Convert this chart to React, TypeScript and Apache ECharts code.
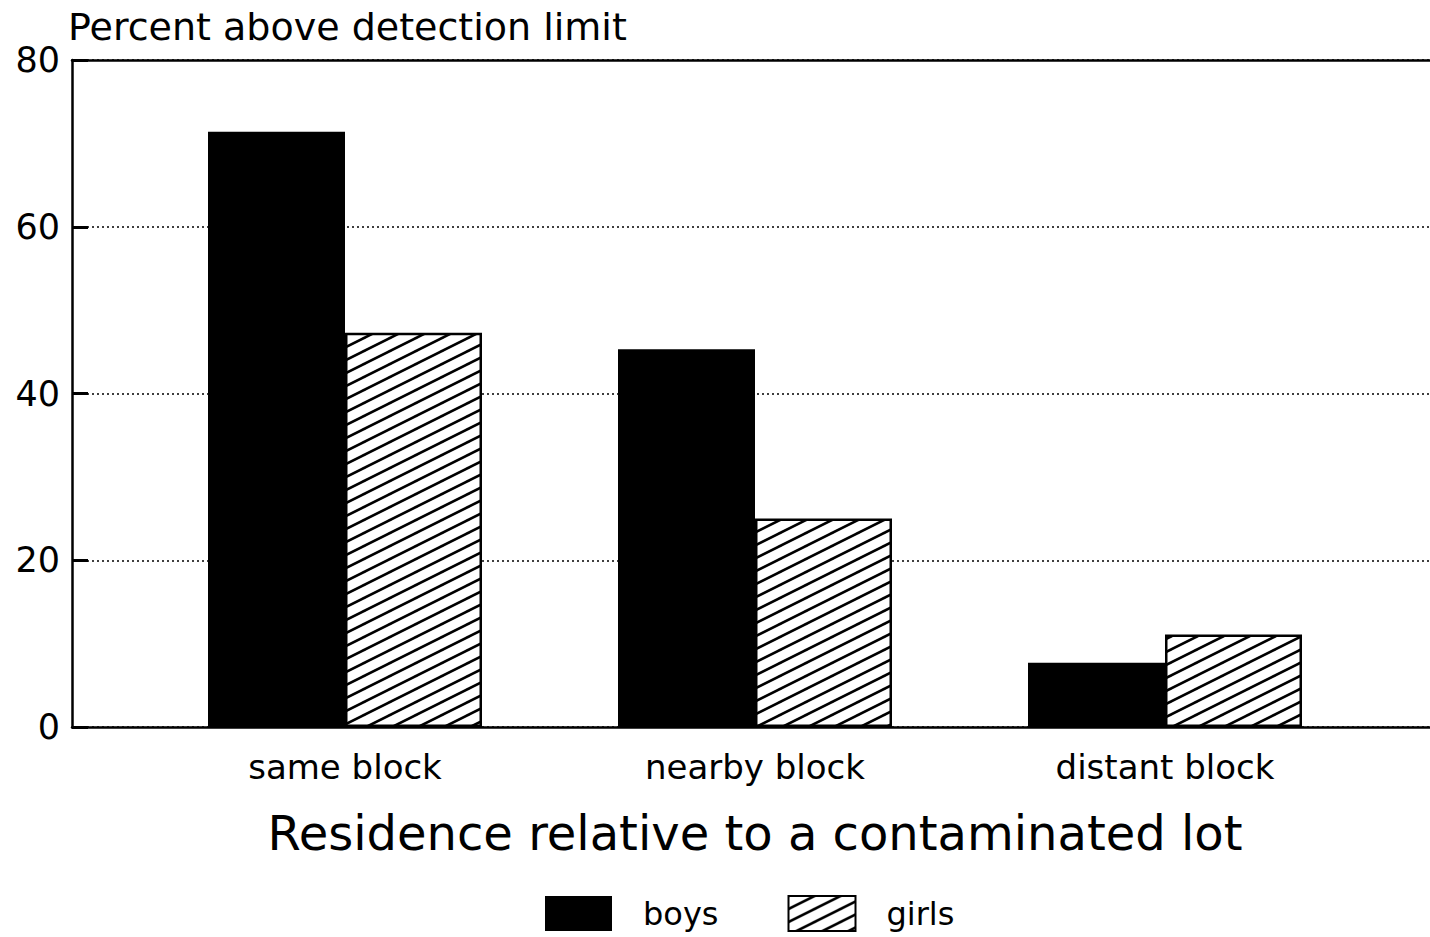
import React, { useEffect, useRef } from "react";
import * as echarts from "echarts";

const categories = ["same block", "nearby block", "distant block"];
const boys = [71.4, 45.3, 7.7];
const girls = [47.3, 25.0, 11.1];
const yTicks = [0, 20, 40, 60, 80];
const seriesNames = ["boys", "girls"];
const yTitle = "Percent above detection limit";
const xTitle = "Residence relative to a contaminated lot";

const FONT = "DejaVu Sans";

const hatchSvg =
  '<svg xmlns="http://www.w3.org/2000/svg" width="26" height="13">' +
  '<rect width="26" height="13" fill="white"/>' +
  '<path d="M0,13 L26,0 M-2,1 L2,-1 M24,14 L28,12" stroke="black" stroke-width="2.6" fill="none"/>' +
  "</svg>";
const hatchUrl = "data:image/svg+xml;charset=utf-8," + encodeURIComponent(hatchSvg);

export default function App() {
  const ref = useRef<HTMLDivElement>(null);
  useEffect(() => {
    if (!ref.current) return;
    const chart = echarts.init(ref.current, undefined, { renderer: "svg" });
    const hatch: any = {
      image: hatchUrl,
      repeat: "repeat",
      imageWidth: 26,
      imageHeight: 13,
    };
    const borderLine = { show: true, lineStyle: { color: "#000", width: 2.5 } };
    chart.setOption({
      animation: false,
      backgroundColor: "#fff",
      textStyle: { fontFamily: FONT, color: "#000" },
      title: {
        text: yTitle,
        left: 63,
        top: 3,
        textStyle: { fontFamily: FONT, fontSize: 38, fontWeight: "normal", color: "#000" },
      },
      legend: {
        data: seriesNames,
        icon: "rect",
        left: 545,
        top: 895,
        padding: 0,
        itemWidth: 67,
        itemHeight: 35,
        itemGap: 69,
        textStyle: { fontFamily: FONT, fontSize: 32, color: "#000", padding: [0, 0, 0, 26] },
      },
      grid: [
        { left: 72, right: 0, top: 60, bottom: 210 },
        { left: 140, right: 60, top: 60, bottom: 210 },
      ],
      xAxis: [
        {
          gridIndex: 0,
          type: "value",
          min: 0,
          max: 1,
          position: "bottom",
          axisLine: borderLine,
          axisTick: { show: false },
          axisLabel: { show: false },
          splitLine: { show: false },
        },
        {
          gridIndex: 1,
          type: "category",
          data: categories,
          axisLine: { show: false },
          axisTick: { show: false },
          axisLabel: { fontFamily: FONT, fontSize: 34, color: "#000", margin: 23 },
          name: xTitle,
          nameLocation: "middle",
          nameGap: 82,
          nameTextStyle: { fontFamily: FONT, fontSize: 48, color: "#000", verticalAlign: "top" },
        },
        {
          gridIndex: 0,
          type: "value",
          min: 0,
          max: 1,
          position: "top",
          axisLine: borderLine,
          axisTick: { show: false },
          axisLabel: { show: false },
          splitLine: { show: false },
        },
      ],
      yAxis: [
        {
          gridIndex: 0,
          type: "value",
          min: yTicks[0],
          max: yTicks[yTicks.length - 1],
          interval: 20,
          axisLine: borderLine,
          axisTick: { show: true, inside: true, length: 16, lineStyle: { color: "#000", width: 3 } },
          axisLabel: { fontFamily: FONT, fontSize: 35, color: "#000", margin: 12 },
          splitLine: { show: true, lineStyle: { color: "#000", width: 1.6, type: [2, 3] } },
        },
        {
          gridIndex: 1,
          type: "value",
          min: yTicks[0],
          max: yTicks[yTicks.length - 1],
          show: false,
          splitLine: { show: false },
        },
      ],
      series: [
        {
          name: seriesNames[0],
          type: "bar",
          xAxisIndex: 1,
          yAxisIndex: 1,
          barWidth: 137,
          barGap: "0%",
          data: boys,
          itemStyle: { color: "#000" },
        },
        {
          name: seriesNames[1],
          type: "bar",
          xAxisIndex: 1,
          yAxisIndex: 1,
          barWidth: 137,
          barGap: "0%",
          data: girls,
          itemStyle: { color: hatch, borderColor: "#000", borderWidth: 2.5 },
        },
      ],
    });
    return () => chart.dispose();
  }, []);
  return (
    <div
      ref={ref}
      style={{ position: "fixed", left: 0, top: 0, width: 1430, height: 937 }}
    />
  );
}
